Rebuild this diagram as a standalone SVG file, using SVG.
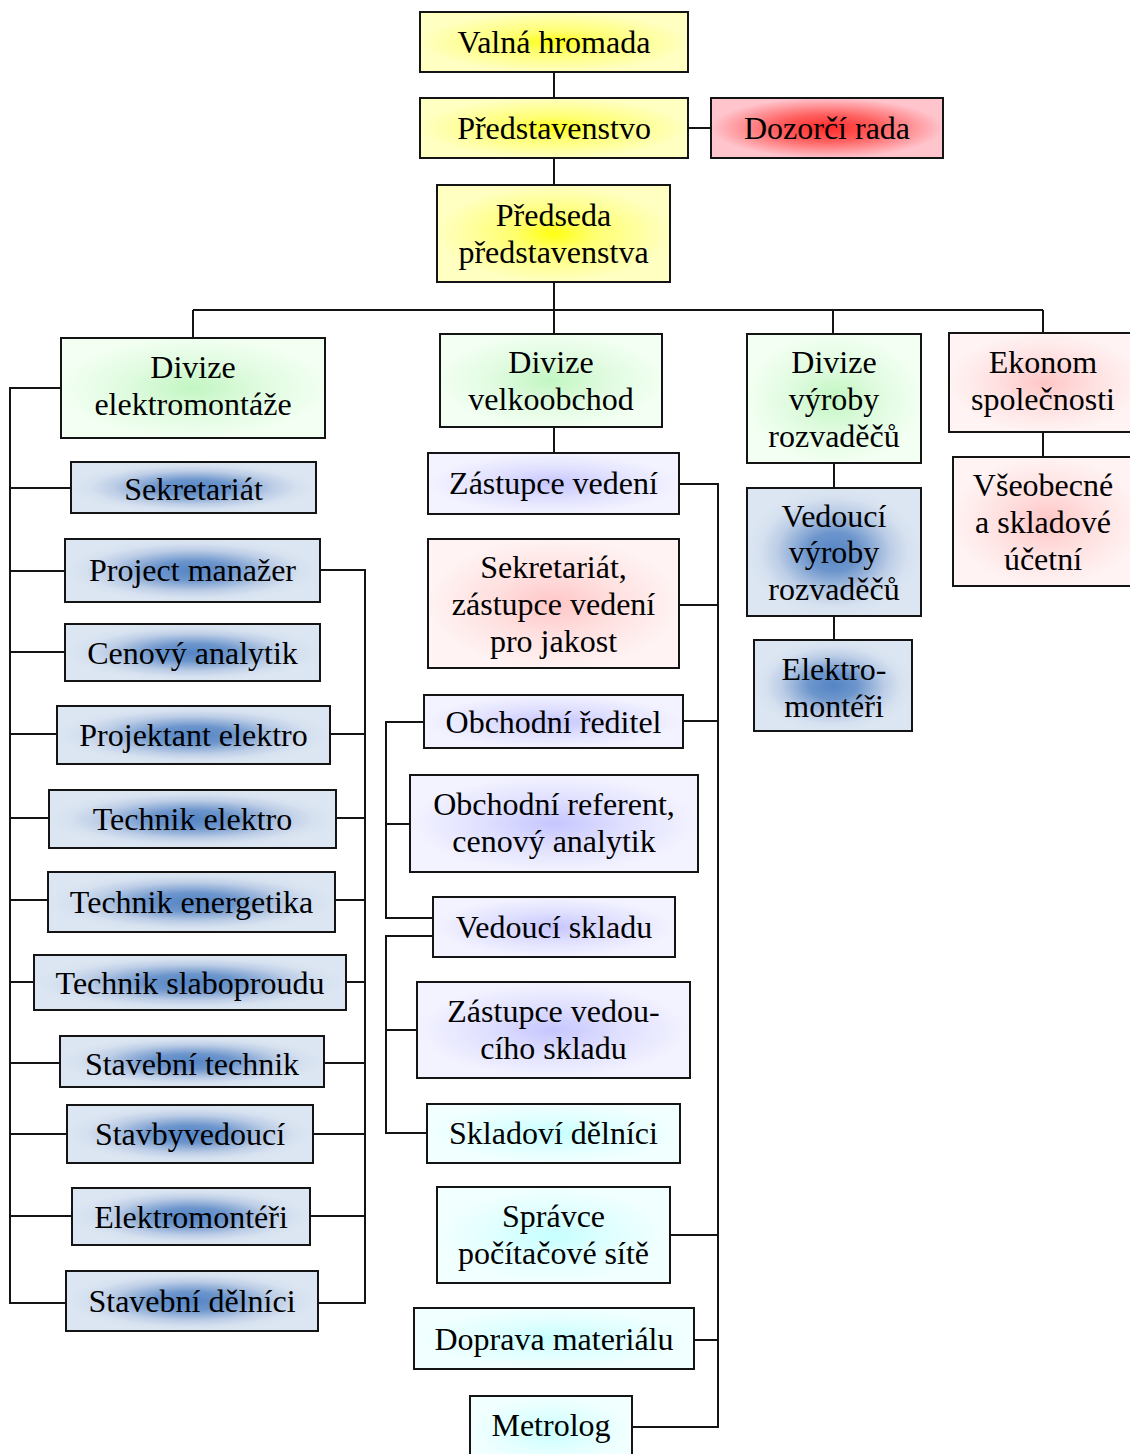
<svg xmlns="http://www.w3.org/2000/svg" width="1130" height="1454" viewBox="0 0 1130 1454">
<style>
rect.b{stroke:#141414;stroke-width:2}
text{font-family:"Liberation Serif","DejaVu Serif",serif;font-size:32px;fill:#000;text-anchor:middle}
.c path{fill:none;stroke:#141414;stroke-width:2}
</style>
<defs>
<radialGradient id="gy" cx="0.5" cy="0.5" r="0.5"><stop offset="0" stop-color="#ffff10"/><stop offset="0.35" stop-color="#ffff70"/><stop offset="1" stop-color="#ffffc2"/></radialGradient>
<radialGradient id="gr" cx="0.5" cy="0.5" r="0.5"><stop offset="0" stop-color="#ff2a2a"/><stop offset="0.45" stop-color="#ff6060"/><stop offset="1" stop-color="#ffc4cc"/></radialGradient>
<radialGradient id="gg" cx="0.5" cy="0.5" r="0.5"><stop offset="0" stop-color="#c2f6c2"/><stop offset="0.5" stop-color="#dffbdf"/><stop offset="1" stop-color="#f2fff2"/></radialGradient>
<radialGradient id="gb" cx="0.5" cy="0.5" r="0.5"><stop offset="0" stop-color="#5585c5"/><stop offset="0.3" stop-color="#6c95cc"/><stop offset="0.65" stop-color="#bccde6"/><stop offset="0.85" stop-color="#d6e1f0"/><stop offset="1" stop-color="#dce6f2"/></radialGradient>
<radialGradient id="gl" cx="0.5" cy="0.5" r="0.5"><stop offset="0" stop-color="#c6c6ff"/><stop offset="0.5" stop-color="#e0e0ff"/><stop offset="1" stop-color="#f3f3ff"/></radialGradient>
<radialGradient id="gp" cx="0.5" cy="0.5" r="0.5"><stop offset="0" stop-color="#ffc6c6"/><stop offset="0.5" stop-color="#ffe0e0"/><stop offset="1" stop-color="#fff3f3"/></radialGradient>
<radialGradient id="gc" cx="0.5" cy="0.5" r="0.5"><stop offset="0" stop-color="#c6ffff"/><stop offset="0.5" stop-color="#e0ffff"/><stop offset="1" stop-color="#f2ffff"/></radialGradient>
</defs>
<rect width="1130" height="1454" fill="#fff"/>
<g class="c" id="connectors">
<path d="M554,72V98M554,158V185M688,128H711M554,282V310M193,310H1043M193,310V338M554,310V334M833,310V334M1043,310V333M1043,432V457M834,463V488M834,616V640M554,427V453"/>
<path d="M61,388H10V1303H66M10,488H71M10,571H65M10,652H65M10,734H57M10,818H49M10,900H48M10,982H34M10,1063H60M10,1134H67M10,1216H72"/>
<path d="M320,570H365V1303H318M330,734H365M336,818H365M335,900H365M346,982H365M324,1063H365M313,1134H365M310,1216H365"/>
<path d="M679,484H718V1427H632M679,605H718M683,721H718M670,1235H718M694,1340H718"/>
<path d="M424,722H386V918H433M410,824H386M433,936H386V1133H427M417,1030H386"/>
</g>
<g id="n-valna"><rect class="b" x="420" y="12" width="268" height="60" fill="url(#gy)"/><text x="554" y="53">Valná hromada</text></g>
<g id="n-predstavenstvo"><rect class="b" x="420" y="98" width="268" height="60" fill="url(#gy)"/><text x="554" y="139">Představenstvo</text></g>
<g id="n-dozorci"><rect class="b" x="711" y="98" width="232" height="60" fill="url(#gr)"/><text x="827" y="139">Dozorčí rada</text></g>
<g id="n-predseda"><rect class="b" x="437" y="185" width="233" height="97" fill="url(#gy)"/><text x="553.5" y="226">Předseda</text><text x="553.5" y="263">představenstva</text></g>
<g id="n-div-elektro"><rect class="b" x="61" y="338" width="264" height="100" fill="url(#gg)"/><text x="193" y="378">Divize</text><text x="193" y="415">elektromontáže</text></g>
<g id="n-div-velko"><rect class="b" x="440" y="334" width="222" height="93" fill="url(#gg)"/><text x="551" y="373">Divize</text><text x="551" y="410">velkoobchod</text></g>
<g id="n-div-vyroby"><rect class="b" x="747" y="334" width="174" height="129" fill="url(#gg)"/><text x="834" y="373">Divize</text><text x="834" y="410">výroby</text><text x="834" y="447">rozvaděčů</text></g>
<g id="n-ekonom"><rect class="b" x="949" y="333" width="192" height="99" fill="url(#gp)"/><text x="1043" y="373">Ekonom</text><text x="1043" y="410">společnosti</text></g>
<g id="n-ucetni"><rect class="b" x="953" y="457" width="188" height="129" fill="url(#gp)"/><text x="1043" y="496">Všeobecné</text><text x="1043" y="533">a skladové</text><text x="1043" y="570">účetní</text></g>
<g id="n-ved-vyroby"><rect class="b" x="747" y="488" width="174" height="128" fill="url(#gb)"/><text x="834" y="527">Vedoucí</text><text x="834" y="563">výroby</text><text x="834" y="600">rozvaděčů</text></g>
<g id="n-elektromonteri-r"><rect class="b" x="754" y="640" width="158" height="91" fill="url(#gb)"/><text x="834" y="680">Elektro-</text><text x="834" y="717">montéři</text></g>
<g id="n-l-sekretariat"><rect class="b" x="71" y="462" width="245" height="51" fill="url(#gb)"/><text x="193.5" y="500">Sekretariát</text></g>
<g id="n-l-project"><rect class="b" x="65" y="539" width="255" height="63" fill="url(#gb)"/><text x="192.5" y="581">Project manažer</text></g>
<g id="n-l-cenovy"><rect class="b" x="65" y="624" width="255" height="57" fill="url(#gb)"/><text x="192.5" y="664">Cenový analytik</text></g>
<g id="n-l-projektant"><rect class="b" x="57" y="706" width="273" height="58" fill="url(#gb)"/><text x="193.5" y="746">Projektant elektro</text></g>
<g id="n-l-technik-el"><rect class="b" x="49" y="790" width="287" height="58" fill="url(#gb)"/><text x="192.5" y="830">Technik elektro</text></g>
<g id="n-l-technik-en"><rect class="b" x="48" y="872" width="287" height="60" fill="url(#gb)"/><text x="191.5" y="913">Technik energetika</text></g>
<g id="n-l-technik-sl"><rect class="b" x="34" y="955" width="312" height="55" fill="url(#gb)"/><text x="190" y="994">Technik slaboproudu</text></g>
<g id="n-l-stavebni-t"><rect class="b" x="60" y="1036" width="264" height="51" fill="url(#gb)"/><text x="192" y="1075">Stavební technik</text></g>
<g id="n-l-stavbyved"><rect class="b" x="67" y="1105" width="246" height="58" fill="url(#gb)"/><text x="190" y="1145">Stavbyvedoucí</text></g>
<g id="n-l-elektromont"><rect class="b" x="72" y="1188" width="238" height="57" fill="url(#gb)"/><text x="191" y="1228">Elektromontéři</text></g>
<g id="n-l-stavebni-d"><rect class="b" x="66" y="1271" width="252" height="60" fill="url(#gb)"/><text x="192" y="1312">Stavební dělníci</text></g>
<g id="n-m-zastupce"><rect class="b" x="428" y="453" width="251" height="61" fill="url(#gl)"/><text x="553.5" y="494">Zástupce vedení</text></g>
<g id="n-m-sekretariat"><rect class="b" x="428" y="539" width="251" height="129" fill="url(#gp)"/><text x="553.5" y="578">Sekretariát,</text><text x="553.5" y="615">zástupce vedení</text><text x="553.5" y="652">pro jakost</text></g>
<g id="n-m-obch-reditel"><rect class="b" x="424" y="695" width="259" height="53" fill="url(#gl)"/><text x="553.5" y="733">Obchodní ředitel</text></g>
<g id="n-m-obch-referent"><rect class="b" x="410" y="775" width="288" height="97" fill="url(#gl)"/><text x="554" y="815">Obchodní referent,</text><text x="554" y="852">cenový analytik</text></g>
<g id="n-m-ved-skladu"><rect class="b" x="433" y="897" width="242" height="60" fill="url(#gl)"/><text x="554" y="938">Vedoucí skladu</text></g>
<g id="n-m-zast-skladu"><rect class="b" x="417" y="982" width="273" height="96" fill="url(#gl)"/><text x="553.5" y="1022">Zástupce vedou-</text><text x="553.5" y="1059">cího skladu</text></g>
<g id="n-m-skladovi"><rect class="b" x="427" y="1104" width="253" height="59" fill="url(#gc)"/><text x="553.5" y="1144">Skladoví dělníci</text></g>
<g id="n-m-spravce"><rect class="b" x="437" y="1187" width="233" height="96" fill="url(#gc)"/><text x="553.5" y="1227">Správce</text><text x="553.5" y="1264">počítačové sítě</text></g>
<g id="n-m-doprava"><rect class="b" x="414" y="1308" width="280" height="61" fill="url(#gc)"/><text x="554" y="1350">Doprava materiálu</text></g>
<g id="n-m-metrolog"><rect class="b" x="470" y="1396" width="162" height="70" fill="url(#gc)"/><text x="551" y="1436">Metrolog</text></g>
</svg>
